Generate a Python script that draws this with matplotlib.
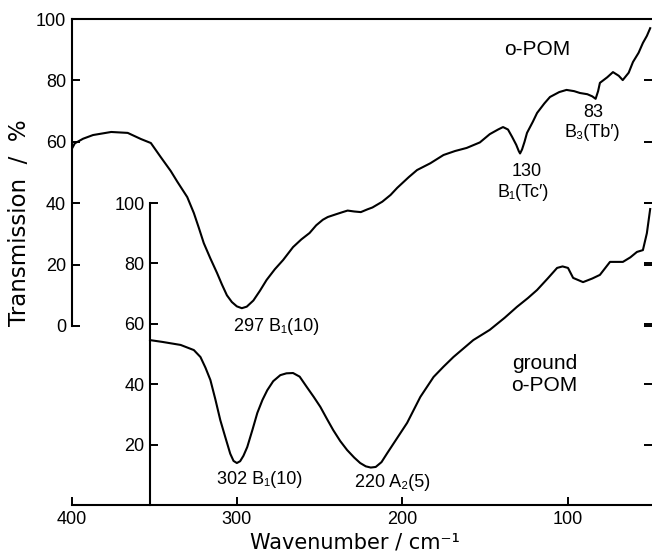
import matplotlib
matplotlib.use("Agg")
import matplotlib.pyplot as plt

plt.rcParams['font.family'] = ['Liberation Sans', 'DejaVu Sans']

# o-POM spectrum (outer axis, Transmission %)
opom_wn = [400, 398, 393, 387, 376, 366, 358, 352, 346, 340, 336, 330, 326, 323, 320, 316,
           312, 309, 306, 303, 300, 297, 294, 290, 286, 282, 277, 272, 266, 261, 256, 252,
           248, 245, 240, 236, 233, 229, 225, 221, 218, 212, 207, 203, 201, 196, 191, 183,
           175, 168, 161, 153, 147, 142, 139, 136, 133.5, 131, 129.5, 128.7, 127.5, 126,
           124.5, 121, 118.4, 114, 110.6, 105, 100.6, 96, 92.5, 88, 85, 83, 81.5, 80.4, 76,
           72.5, 69, 66.6, 63, 60.4, 57, 54.4, 52, 50]
opom_t = [57.5, 59.5, 61.0, 62.2, 63.2, 62.9, 60.9, 59.6, 55.0, 50.5, 47.0, 42.0, 36.8, 32.0,
          27.0, 22.0, 17.3, 13.5, 10.0, 7.8, 6.4, 5.8, 6.3, 8.3, 11.5, 15.0, 18.5, 21.5, 25.7,
          28.2, 30.3, 32.8, 34.6, 35.5, 36.4, 37.1, 37.6, 37.3, 37.1, 38.0, 38.6, 40.5, 42.7,
          45.0, 46.0, 48.5, 50.8, 53.0, 55.7, 57.0, 58.0, 59.8, 62.5, 64.0, 64.8, 64.0, 61.6,
          59.0, 57.0, 56.2, 57.5, 60.0, 62.9, 66.5, 69.4, 72.5, 74.6, 76.2, 76.9, 76.5, 75.9,
          75.5, 74.8, 74.0, 76.5, 79.2, 81.0, 82.7, 81.5, 80.1, 82.5, 86.0, 89.0, 92.2, 94.5,
          97.0]

# ground o-POM spectrum (inner axis, Transmission %)
ground_wn = [352.5, 345, 334, 326, 322, 319, 316, 313, 310, 307, 304, 302, 300, 298, 296,
             293.7, 290.5, 287.6, 284.5, 281.6, 278, 273.7, 270, 266, 262, 257.6, 253.5,
             249.5, 245.5, 241.7, 237.5, 233.3, 229, 225.4, 222, 219, 216, 212.5, 209, 203,
             197, 189, 181, 175, 169, 163, 157, 147, 138, 130.6, 124, 118.4, 112, 106.3,
             103, 99.7, 96.6, 90.6, 85, 80.4, 74.3, 66.5, 62, 58, 54.4, 52, 50]
ground_t = [54.6, 54.0, 53.0, 51.3, 49.0, 45.5, 41.4, 35.0, 28.1, 22.5, 17.0, 14.6, 13.9,
            14.5, 16.3, 19.2, 25.0, 30.5, 34.8, 38.0, 41.0, 43.0, 43.6, 43.7, 42.5, 39.0,
            35.8, 32.5, 28.5, 24.8, 21.2, 18.2, 15.7, 13.9, 12.8, 12.4, 12.6, 14.2, 17.2,
            22.2, 27.2, 35.8, 42.4, 45.8, 49.0, 51.8, 54.6, 58.0, 62.0, 65.6, 68.5, 71.2,
            75.0, 78.5, 79.0, 78.5, 75.2, 73.8, 75.0, 76.2, 80.5, 80.5, 82.0, 83.8, 84.4,
            90.0, 98.0]

x_ticks = [400, 300, 200, 100]
outer_yticks = [0, 20, 40, 60, 80, 100]
inner_yticks = [20, 40, 60, 80, 100]

W, H = 652, 554
fig = plt.figure(figsize=(W / 100, H / 100), dpi=100)

left = 71.5 / W
right = 651.5 / W
top = 1 - 19 / H
bottom = 1 - 505 / H
rect = [left, bottom, right - left, top - bottom]

lw_sp = 1.5
tick_kw = dict(direction='in', length=6, width=1.4, labelsize=13)

# Outer axes
ax = fig.add_axes(rect)
ax.set_xlim(400, 49.2)
ax.set_ylim(-(505 - 326) / 3.07, 100)
ax.plot(opom_wn, opom_t, color='black', lw=1.5)
for s in ax.spines.values():
    s.set_linewidth(lw_sp)
ax.spines['right'].set_visible(False)
ax.spines['left'].set_bounds(0, 100)
ax.set_xticks(x_ticks)
ax.set_yticks(outer_yticks)
ax.tick_params(axis='both', **tick_kw, pad=4)
ax.tick_params(axis='y', right=True, labelright=False)
ax.set_ylabel('Transmission  /  %', fontsize=16.5, family=['DejaVu Sans'])
ax.yaxis.set_label_coords((31 - 71.5) / 580, 1 - (223 - 19) / (505 - 19))
ax.set_xlabel('Wavenumber / cm\u207b\u00b9', fontsize=15, family=['DejaVu Sans'])
ax.xaxis.set_label_coords((355 - 71.5) / 580, -(549 - 505) / (505 - 19))
ax.xaxis.label.set_va('baseline')

# Inner axes
ax2 = fig.add_axes(rect, sharex=ax)
ax2.patch.set_visible(False)
ax2.set_ylim(0, 100 * (505 - 19) / 302)
ax2.plot(ground_wn, ground_t, color='black', lw=1.5)
for k in ['top', 'right', 'bottom']:
    ax2.spines[k].set_visible(False)
ax2.spines['left'].set_position(('data', 352.5))
ax2.spines['left'].set_bounds(0, 100)
ax2.spines['left'].set_linewidth(lw_sp)
ax2.set_yticks(inner_yticks)
ax2.tick_params(axis='y', **tick_kw, pad=4, right=True, labelright=False)
ax2.tick_params(axis='x', bottom=False, labelbottom=False)

# annotations (outer coords)
fs = 13
ax.text(276, -0.3, '297 B\u2081(10)', ha='center', va='center', fontsize=fs)
ax.text(124.6, 50.2, '130', ha='center', va='center', fontsize=fs)
ax.text(127, 43.6, 'B\u2081(Tc\u2032)', ha='center', va='center', fontsize=fs)
ax.text(84.7, 69.4, '83', ha='center', va='center', fontsize=fs)
ax.text(84.7, 62.9, 'B\u2083(Tb\u2032)', ha='center', va='center', fontsize=fs)
ax.text(118.6, 90, 'o-POM', ha='center', va='center', fontsize=15)

ax2.text(286, 8.3, '302 B\u2081(10)', ha='center', va='center', fontsize=fs)
ax2.text(205.6, 7.3, '220 A\u2082(5)', ha='center', va='center', fontsize=fs)
ax2.text(114, 47, 'ground', ha='center', va='center', fontsize=15)
ax2.text(114, 39.7, 'o-POM', ha='center', va='center', fontsize=15)

fig.savefig('out.png', dpi=100)
